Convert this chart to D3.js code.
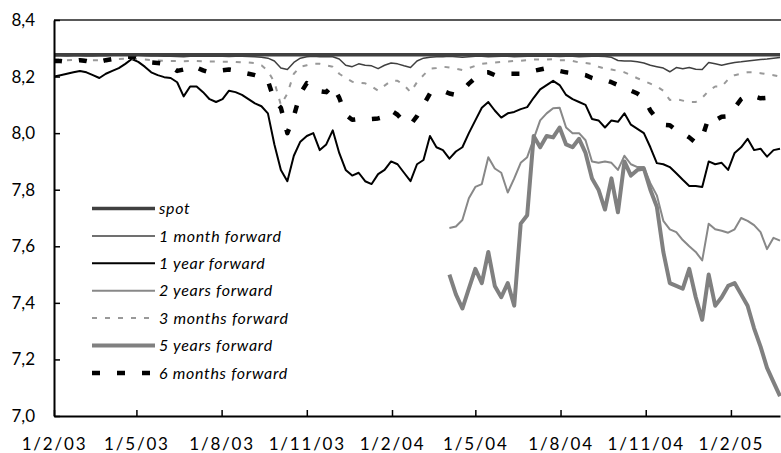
<!DOCTYPE html>
<html>
<head>
<meta charset="utf-8">
<script src="https://cdn.jsdelivr.net/npm/d3@7"></script>
<style>
  body { margin: 0; background: #fff; }
  svg text { font-family: Lato, "Open Sans", sans-serif; fill: #000; }
</style>
</head>
<body>
<svg id="canvas" width="781" height="453"></svg>
<script>
// ************************************************************************************** //
// Data (weekly readings, CNY per USD)

var weeks = ("03-02-01 03-02-08 03-02-15 03-02-22 03-03-01 03-03-08 03-03-15 03-03-22 03-03-29 03-04-05 " +
  "03-04-12 03-04-19 03-04-26 03-05-03 03-05-10 03-05-17 03-05-24 03-05-31 03-06-07 03-06-14 " +
  "03-06-21 03-06-28 03-07-05 03-07-12 03-07-19 03-07-26 03-08-02 03-08-09 03-08-16 03-08-23 " +
  "03-08-30 03-09-06 03-09-13 03-09-20 03-09-27 03-10-04 03-10-11 03-10-18 03-10-25 03-11-01 " +
  "03-11-08 03-11-15 03-11-22 03-11-29 03-12-06 03-12-13 03-12-20 03-12-27 04-01-03 04-01-10 " +
  "04-01-17 04-01-24 04-01-31 04-02-07 04-02-14 04-02-21 04-02-28 04-03-06 04-03-13 04-03-20 " +
  "04-03-27 04-04-03 04-04-10 04-04-17 04-04-24 04-05-01 04-05-08 04-05-15 04-05-22 04-05-29 " +
  "04-06-05 04-06-12 04-06-19 04-06-26 04-07-03 04-07-10 04-07-17 04-07-24 04-07-31 04-08-07 " +
  "04-08-14 04-08-21 04-08-28 04-09-04 04-09-11 04-09-18 04-09-25 04-10-02 04-10-09 04-10-16 " +
  "04-10-23 04-10-30 04-11-06 04-11-13 04-11-20 04-11-27 04-12-04 04-12-11 04-12-18 04-12-25 " +
  "05-01-01 05-01-08 05-01-15 05-01-22 05-01-29 05-02-05 05-02-12 05-02-19 05-02-26 05-03-05 " +
  "05-03-12 05-03-19 05-03-26").split(" ");

var spotDates = ["03-02-01", "05-03-26"];
var spot = [8.277, 8.277];

var oneMonth = [8.274,8.274,8.273,8.274,8.274,8.273,8.273,8.274,8.274,8.275,
  8.275,8.276,8.276,8.275,8.274,8.273,8.273,8.272,8.272,8.271,
  8.270,8.272,8.272,8.272,8.272,8.272,8.272,8.271,8.272,8.272,
  8.271,8.270,8.268,8.265,8.255,8.230,8.225,8.250,8.265,8.270,
  8.272,8.270,8.270,8.270,8.262,8.240,8.235,8.245,8.240,8.238,
  8.228,8.240,8.248,8.245,8.238,8.232,8.255,8.265,8.268,8.270,
  8.270,8.272,8.270,8.268,8.270,8.272,8.272,8.270,8.271,8.272,
  8.272,8.270,8.271,8.272,8.272,8.273,8.272,8.272,8.271,8.272,
  8.272,8.270,8.271,8.272,8.272,8.271,8.268,8.257,8.255,8.255,
  8.252,8.248,8.240,8.235,8.230,8.217,8.232,8.228,8.232,8.226,
  8.225,8.250,8.245,8.240,8.245,8.250,8.252,8.255,8.258,8.260,
  8.262,8.265,8.267];

var oneYear = [8.200,8.205,8.210,8.215,8.220,8.215,8.205,8.195,8.210,8.220,
  8.230,8.245,8.262,8.252,8.235,8.215,8.205,8.198,8.195,8.180,
  8.130,8.165,8.165,8.145,8.120,8.110,8.120,8.150,8.145,8.135,
  8.120,8.105,8.095,8.070,7.960,7.870,7.830,7.920,7.970,7.990,
  8.000,7.940,7.960,8.010,7.930,7.870,7.850,7.860,7.830,7.820,
  7.855,7.870,7.900,7.890,7.860,7.830,7.890,7.905,7.990,7.950,
  7.940,7.910,7.935,7.950,8.000,8.045,8.090,8.110,8.080,8.055,
  8.070,8.075,8.085,8.092,8.125,8.155,8.170,8.185,8.170,8.135,
  8.120,8.110,8.100,8.050,8.045,8.020,8.045,8.040,8.070,8.030,
  8.015,8.000,7.950,7.894,7.890,7.880,7.858,7.835,7.813,7.813,
  7.810,7.900,7.890,7.895,7.870,7.930,7.950,7.980,7.940,7.945,
  7.917,7.940,7.945];

var threeMonths = [8.260,8.260,8.258,8.259,8.260,8.259,8.258,8.258,8.259,8.260,
  8.262,8.263,8.263,8.262,8.260,8.258,8.257,8.256,8.255,8.255,
  8.254,8.255,8.255,8.254,8.253,8.253,8.252,8.252,8.252,8.250,
  8.250,8.248,8.240,8.220,8.180,8.100,8.140,8.210,8.235,8.240,
  8.245,8.245,8.240,8.235,8.210,8.195,8.182,8.178,8.176,8.165,
  8.150,8.168,8.185,8.185,8.170,8.145,8.180,8.205,8.228,8.230,
  8.235,8.232,8.228,8.223,8.230,8.238,8.245,8.248,8.250,8.252,
  8.253,8.255,8.256,8.258,8.260,8.260,8.260,8.262,8.258,8.258,
  8.255,8.250,8.248,8.245,8.235,8.228,8.225,8.220,8.215,8.205,
  8.194,8.185,8.175,8.165,8.150,8.117,8.120,8.115,8.110,8.110,
  8.125,8.150,8.165,8.165,8.190,8.205,8.210,8.215,8.215,8.212,
  8.208,8.205,8.200];

var sixMonths = [8.255,8.255,8.252,8.255,8.258,8.255,8.250,8.252,8.258,8.262,
  8.268,8.270,8.270,8.262,8.255,8.250,8.248,8.245,8.235,8.220,
  8.225,8.238,8.232,8.222,8.215,8.218,8.222,8.225,8.222,8.215,
  8.210,8.205,8.198,8.185,8.115,8.090,8.000,8.060,8.140,8.177,
  8.160,8.148,8.145,8.170,8.125,8.065,8.047,8.050,8.055,8.050,
  8.052,8.058,8.080,8.065,8.040,8.030,8.060,8.100,8.140,8.148,
  8.150,8.140,8.135,8.150,8.175,8.195,8.215,8.215,8.205,8.208,
  8.210,8.210,8.210,8.212,8.220,8.225,8.230,8.225,8.220,8.215,
  8.212,8.210,8.205,8.195,8.188,8.188,8.180,8.170,8.165,8.150,
  8.140,8.123,8.080,8.050,8.030,8.028,8.010,8.000,7.985,7.966,
  7.985,8.055,8.045,8.058,8.060,8.090,8.120,8.135,8.130,8.123,
  8.125,8.123,8.130];

// long tenors only quoted from April 2004
var longDates = weeks.slice(61);

var twoYears = [7.665,7.670,7.693,7.770,7.810,7.820,7.915,7.875,7.860,7.790,
  7.840,7.895,7.915,7.980,8.045,8.070,8.088,8.090,8.020,8.000,
  8.000,7.975,7.900,7.895,7.900,7.895,7.870,7.920,7.890,7.880,
  7.880,7.823,7.780,7.690,7.660,7.650,7.622,7.600,7.580,7.550,
  7.680,7.660,7.655,7.648,7.660,7.700,7.690,7.675,7.650,7.590,
  7.630,7.620];

var fiveYears = [7.500,7.430,7.380,7.450,7.520,7.470,7.580,7.460,7.420,7.470,
  7.390,7.680,7.710,7.990,7.950,7.990,7.985,8.020,7.960,7.950,
  7.980,7.930,7.840,7.800,7.730,7.840,7.720,7.900,7.850,7.870,
  7.875,7.800,7.740,7.580,7.470,7.460,7.450,7.520,7.420,7.340,
  7.500,7.390,7.420,7.460,7.470,7.430,7.390,7.310,7.245,7.170,
  7.120,7.070];

var yTicks = [7.0, 7.2, 7.4, 7.6, 7.8, 8.0, 8.2, 8.4];
var xTicks = ["03-02-01", "03-05-01", "03-08-01", "03-11-01", "04-02-01", "04-05-01", "04-08-01", "04-11-01", "05-02-01"];

// ************************************************************************************** //
// Setup

var parse = d3.timeParse("%y-%m-%d");
var svg = d3.select('#canvas');
var plotLeft = 54, plotTop = 20, plotRight = 781, plotBottom = 416;

var x = d3.scaleTime().domain([parse("03-02-01"), parse("05-03-26")]).range([plotLeft, 780]);
var y = d3.scaleLinear().domain([7.0, 8.4]).range([plotBottom, plotTop]);

var comma = d3.formatLocale({ decimal: ",", thousands: ".", grouping: [3], currency: ["", ""] }).format(".1f");

function pack(dates, vals){
  return vals.map(function(v, i){ return { d: parse(dates[i]), v: v }; });
}

var series = [
  { name: 'spot',             data: pack(spotDates, spot),      color: '#404040', width: 3.5, dash: null },
  { name: '1 month forward',  data: pack(weeks, oneMonth),      color: '#404040', width: 1.5, dash: null },
  { name: '1 year forward',   data: pack(weeks, oneYear),       color: '#000000', width: 2,   dash: null },
  { name: '2 years forward',  data: pack(longDates, twoYears),  color: '#888888', width: 2,   dash: null },
  { name: '3 months forward', data: pack(weeks, threeMonths),   color: '#999999', width: 2,   dash: '5,8' },
  { name: '5 years forward',  data: pack(longDates, fiveYears), color: '#808080', width: 4,   dash: null },
  { name: '6 months forward', data: pack(weeks, sixMonths),     color: '#000000', width: 4.5, dash: '8,17' }
];

svg.append('clipPath').attr('id', 'plotclip').append('rect')
  .attr('x', plotLeft).attr('y', plotTop - 5).attr('width', plotRight - plotLeft).attr('height', plotBottom - plotTop + 5);

// ************************************************************************************** //
// Lines

var lineGen = d3.line().x(function(p){ return x(p.d); }).y(function(p){ return y(p.v); });
var plot = svg.append('g').attr('clip-path', 'url(#plotclip)');

// spot on top of everything
var drawOrder = series.slice(1).concat([series[0]]);
drawOrder.forEach(function(s){
  plot.append('path')
    .attr('d', lineGen(s.data))
    .attr('fill', 'none')
    .attr('stroke', s.color)
    .attr('stroke-width', s.width)
    .attr('stroke-linejoin', 'round')
    .attr('stroke-dasharray', s.dash);
});

// top frame line
svg.append('line').attr('x1', plotLeft).attr('x2', plotRight).attr('y1', y(8.4)).attr('y2', y(8.4))
  .attr('stroke', '#222').attr('stroke-width', 1.5);

// ************************************************************************************** //
// Axes

var yAxis = svg.append('g').attr('transform', 'translate(' + plotLeft + ',0)')
  .call(d3.axisLeft(y).tickValues(yTicks).tickSizeInner(-6).tickSizeOuter(0).tickPadding(19).tickFormat(comma));
var xAxis = svg.append('g').attr('transform', 'translate(0,' + plotBottom + ')')
  .call(d3.axisBottom(x).tickValues(xTicks.map(parse)).tickSizeInner(-6).tickSizeOuter(0).tickPadding(22)
    .tickFormat(d3.timeFormat("%-d/%-m/%y")));

[xAxis, yAxis].forEach(function(a){
  a.select('.domain').attr('stroke', '#000').attr('stroke-width', 2);
  a.selectAll('.tick line').attr('stroke', '#000').attr('stroke-width', 1.5);
  a.selectAll('text').attr('font-size', 17).attr('font-family', 'Lato, sans-serif').attr('fill', '#000');
});
xAxis.selectAll('text').attr('letter-spacing', 1.8);

// ************************************************************************************** //
// Legend

var legend = svg.append('g');
series.forEach(function(s, i){
  var ly = 208.5 + i*27.4;
  legend.append('line').attr('x1', 92).attr('x2', 155).attr('y1', ly).attr('y2', ly)
    .attr('stroke', s.color).attr('stroke-width', s.width).attr('stroke-dasharray', s.dash);
  legend.append('text').attr('x', 159).attr('y', ly).attr('dy', '0.35em')
    .attr('font-size', 16).attr('letter-spacing', 0.7).attr('font-style', 'italic').text(s.name);
});
</script>
</body>
</html>
